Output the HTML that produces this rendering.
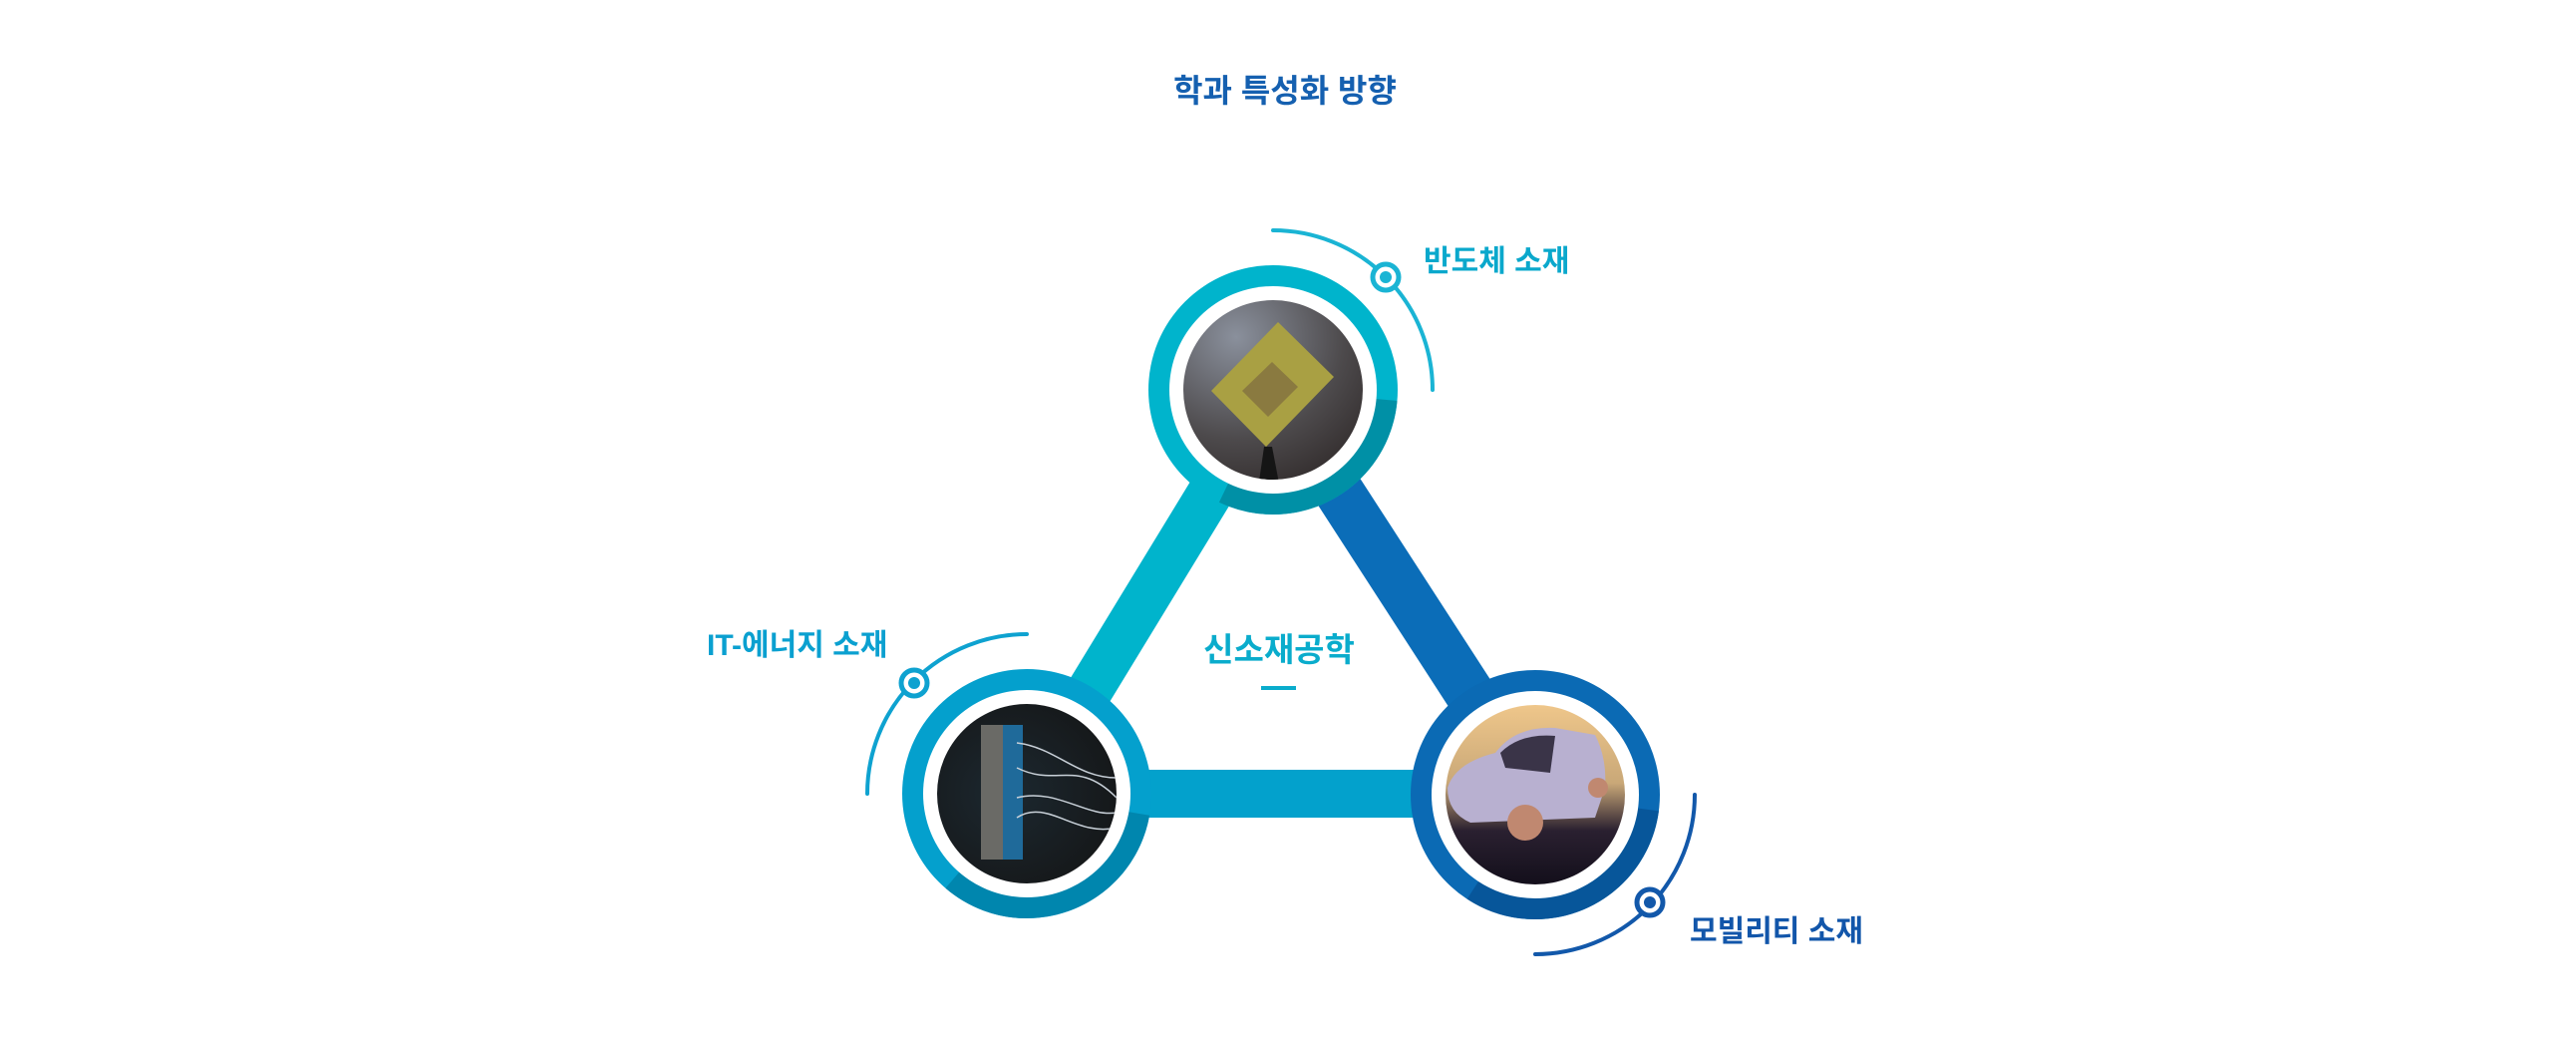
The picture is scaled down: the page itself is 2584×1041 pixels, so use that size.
<!DOCTYPE html>
<html><head><meta charset="utf-8"><style>
html,body{margin:0;padding:0;background:#fff;}
body{width:2584px;height:1036px;overflow:hidden;}
text{font-family:"Liberation Sans","Noto Sans CJK KR",sans-serif;font-weight:bold;}
</style></head><body>
<svg width="2584" height="1036" viewBox="0 0 2584 1036" xmlns="http://www.w3.org/2000/svg">
<defs>
<radialGradient id="chipbg" cx="0.3" cy="0.2" r="0.9"><stop offset="0" stop-color="#8a909c"/><stop offset="0.6" stop-color="#4d4a4c"/><stop offset="1" stop-color="#2e2828"/></radialGradient>
<radialGradient id="elbg" cx="0.4" cy="0.5" r="0.7"><stop offset="0" stop-color="#1c2830"/><stop offset="1" stop-color="#141414"/></radialGradient>
<linearGradient id="carbg" x1="0" y1="0" x2="0" y2="1"><stop offset="0" stop-color="#f2c98c"/><stop offset="0.45" stop-color="#c9a878"/><stop offset="0.7" stop-color="#2a2030"/><stop offset="1" stop-color="#120e1a"/></linearGradient>
<clipPath id="c1"><circle cx="1277" cy="391" r="90"/></clipPath>
<clipPath id="c2"><circle cx="1030" cy="796" r="90"/></clipPath>
<clipPath id="c3"><circle cx="1540" cy="797" r="90"/></clipPath>
</defs>
<text x="1289" y="102" font-size="32" fill="#1560b0" text-anchor="middle">학과 특성화 방향</text>

<line x1="1277" y1="391" x2="1030" y2="796" stroke="#00b4cc" stroke-width="46"/>
<line x1="1277" y1="391" x2="1540" y2="797" stroke="#0b6db8" stroke-width="50"/>
<line x1="1030" y1="796" x2="1540" y2="796" stroke="#03a1cc" stroke-width="48"/>

<circle cx="1277" cy="391" r="125" fill="#00b4cc"/>
<circle cx="1277" cy="391" r="114" fill="none" stroke="#0090a6" stroke-width="22" stroke-dasharray="220 600" stroke-dashoffset="-10"/>
<circle cx="1277" cy="391" r="104" fill="#fff"/>
<g clip-path="url(#c1)">
<rect x="1180" y="300" width="200" height="190" fill="url(#chipbg)"/>
<polygon points="1282,323 1338,378 1270,448 1215,392" fill="#a9a043"/>
<polygon points="1276,363 1302,388 1272,418 1246,392" fill="#8a7a40"/>
<polygon points="1268,448 1276,448 1284,490 1262,490" fill="#151515"/>
</g>

<circle cx="1030" cy="796" r="125" fill="#04a0cd"/>
<circle cx="1030" cy="796" r="114" fill="none" stroke="#0086ae" stroke-width="22" stroke-dasharray="240 600" stroke-dashoffset="-20"/>
<circle cx="1030" cy="796" r="104" fill="#fff"/>
<g clip-path="url(#c2)">
<rect x="930" y="700" width="200" height="190" fill="url(#elbg)"/>
<rect x="984" y="727" width="22" height="135" fill="#6a6a66"/>
<rect x="1006" y="727" width="20" height="135" fill="#1f6a9a"/>
<path d="M1020 745 C1060 750,1080 780,1120 780 M1020 770 C1060 790,1080 760,1120 800 M1020 800 C1060 790,1090 820,1120 815 M1020 820 C1050 800,1080 840,1120 830" stroke="#c8d0d8" stroke-width="1.5" fill="none"/>
</g>

<circle cx="1540" cy="797" r="125" fill="#0b6ab4"/>
<circle cx="1540" cy="797" r="114" fill="none" stroke="#07569a" stroke-width="22" stroke-dasharray="230 600" stroke-dashoffset="-15"/>
<circle cx="1540" cy="797" r="104" fill="#fff"/>
<g clip-path="url(#c3)">
<rect x="1440" y="700" width="200" height="190" fill="url(#carbg)"/>
<path d="M1452 790 Q1460 765 1500 755 Q1520 728 1560 730 L1600 737 Q1612 760 1610 790 L1600 820 L1475 825 Q1452 815 1452 790 Z" fill="#b8b0d0"/>
<path d="M1505 755 Q1525 735 1560 738 L1555 775 L1510 770 Z" fill="#3a3448"/>
<circle cx="1530" cy="825" r="18" fill="#c08870"/>
<circle cx="1603" cy="790" r="10" fill="#c08870"/>
</g>

<g fill="none" stroke-width="4" stroke-linecap="round">
<path d="M1277 231 A160 160 0 0 1 1437 391" stroke="#1ab4d4"/>
<path d="M1030 636 A160 160 0 0 0 870 796" stroke="#0ea2d0"/>
<path d="M1700 797 A160 160 0 0 1 1540 957" stroke="#1258aa"/>
</g>
<g>
<circle cx="1390" cy="278" r="13" fill="#fff" stroke="#1ab4d4" stroke-width="5"/><circle cx="1390" cy="278" r="6" fill="#1ab4d4"/>
<circle cx="917" cy="685" r="13" fill="#fff" stroke="#0ea2d0" stroke-width="5"/><circle cx="917" cy="685" r="6" fill="#0ea2d0"/>
<circle cx="1655" cy="905" r="13" fill="#fff" stroke="#1258aa" stroke-width="5"/><circle cx="1655" cy="905" r="6" fill="#1258aa"/>
</g>

<text x="1428" y="272" font-size="30" fill="#0aa8cc">반도체 소재</text>
<text x="709" y="657" font-size="30" fill="#0aa0d0">IT-에너지 소재</text>
<text x="1695" y="944" font-size="30" fill="#1256aa">모빌리티 소재</text>
<text x="1283" y="663" font-size="33" fill="#0aaccc" text-anchor="middle">신소재공학</text>
<rect x="1265" y="688" width="35" height="4" fill="#0aaccc"/>
</svg>
</body></html>
